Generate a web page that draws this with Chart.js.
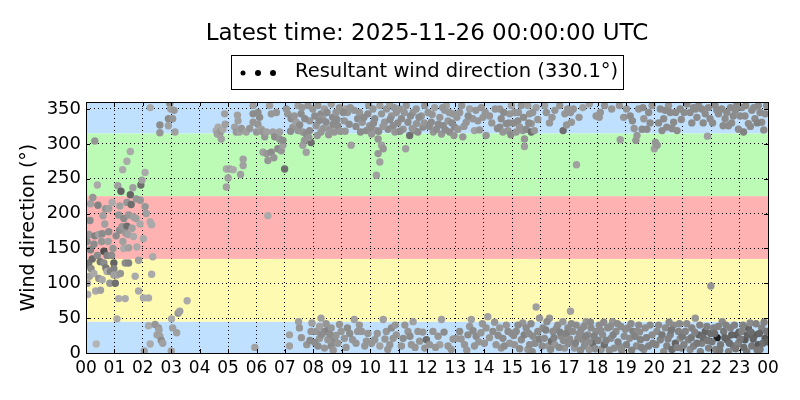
<!DOCTYPE html>
<html>
<head>
<meta charset="utf-8">
<script src="https://cdn.jsdelivr.net/npm/chart.js@4"></script>
<style>
  html, body { margin: 0; padding: 0; background: #fff; }
</style>
</head>
<body>
<canvas id="windChart" width="800" height="400"></canvas>
<script>
// Observations: [hour of day, direction (deg), speed (m/s)] — speed drives the grey shade
const h00 = [[0.02,125,3.5],[0.05,100,2],[0.04,160,3],[0.06,84,1.5],[0.10,129,4],[0.10,170,2.5],[0.12,110,2],[0.14,190,3],[0.16,148,3.5],[0.16,214,2],[0.18,121,3],[0.22,135,4.5],[0.24,223,2.5],[0.28,156,3],[0.28,114,1.5],[0.31,304,2.5],[0.31,168,3.5],[0.34,89,1.5],[0.36,13,1],[0.40,241,1.5],[0.40,140,3],[0.42,212,3.5],[0.45,170,2],[0.45,107,2.5],[0.50,131,4],[0.51,90,2],[0.55,160,2.5],[0.57,105,1.5],[0.57,171,3],[0.60,197,2],[0.63,146,6],[0.63,129,3],[0.66,185,2],[0.69,207,2.5],[0.70,122,4],[0.74,140,3.5],[0.74,117,1.5],[0.78,160,2],[0.80,207,2],[0.80,174,3],[0.84,100,2.5],[0.86,117,3.5],[0.90,140,3],[0.92,216,1.5],[0.95,150,2.5],[0.98,129,5],[0.98,121,3.5],[0.98,112,2]];
const h01 = [[1.03,100,4.5],[1.06,168,3],[1.09,49,1.5],[1.09,112,2],[1.12,240,2],[1.15,78,1.5],[1.15,198,2.5],[1.18,176,3],[1.19,211,2],[1.21,114,2.5],[1.23,232,5],[1.27,181,2.5],[1.29,263,1.5],[1.30,160,2],[1.33,193,3],[1.33,150,1.5],[1.38,129,3],[1.38,78,1.5],[1.40,172,2.5],[1.44,275,1.5],[1.44,216,2.5],[1.44,182,4.5],[1.48,170,2],[1.50,198,2.5],[1.50,151,2],[1.50,129,3.5],[1.56,289,1.5],[1.56,227,5],[1.59,213,4.5],[1.62,179,2],[1.65,237,2],[1.67,195,2],[1.67,167,1.5],[1.73,110,1.5],[1.76,193,2],[1.77,221,2.5],[1.79,152,1.5],[1.85,133,2],[1.85,89,1.5],[1.90,185,1.5],[1.91,219,2.5],[1.93,241,4.5],[1.97,248,2]];
const h02 = [[2.02,79,1.5],[2.02,164,1.5],[2.05,3,2],[2.08,259,1.5],[2.08,210,2.5],[2.12,200,2],[2.20,79,1.5],[2.20,39,1.5],[2.26,352,1.5],[2.26,188,1.5],[2.26,13,1.5],[2.31,184,1.5],[2.31,113,1.5],[2.35,138,1.5],[2.43,41,2.5],[2.50,26,2],[2.55,36,2.5],[2.57,33,2],[2.60,24,2],[2.60,327,3],[2.60,316,2.5],[2.65,18,3],[2.70,14,2],[2.90,336,3],[2.90,326,2],[2.95,358,3],[2.98,350,2],[3.00,3,2],[3.01,49,1.5]];
const h03 = [[3.05,336,2.5],[3.05,36,2],[3.10,348,2.5],[3.13,317,2],[3.19,29,2],[3.24,57,2.5],[3.30,60,2],[3.56,75,1.5]];
const h04 = [[4.58,319,1.5],[4.62,314,2],[4.65,324,1.5],[4.70,313,2],[4.74,318,2.5],[4.76,307,2],[4.82,321,1.5],[4.88,343,2],[4.90,328,2],[4.94,238,2],[4.94,264,1.5]];
const h05 = [[5.00,251,2],[5.06,264,2],[5.18,263,1.5],[5.23,324,2],[5.29,317,2.5],[5.33,341,2],[5.35,333,2],[5.40,317,2],[5.44,256,2],[5.47,322,2.5],[5.53,278,2],[5.53,269,2],[5.64,317,2],[5.76,322,2.5],[5.88,331,2.5],[5.88,343,3],[5.88,355,2],[5.94,8,2]];
const h06 = [[6.00,317,2.5],[6.05,345,3],[6.05,328,2.5],[6.11,338,3],[6.17,321,2],[6.23,317,2.5],[6.23,288,2],[6.29,310,2.5],[6.35,286,2.5],[6.35,317,2],[6.40,276,2.5],[6.40,197,1.5],[6.46,355,2],[6.52,288,3],[6.52,343,2.5],[6.58,317,2],[6.61,280,2.5],[6.64,310,3],[6.70,345,2.5],[6.75,293,3],[6.81,317,2],[6.81,307,2.5],[6.87,290,2.5],[6.93,298,2],[6.93,305,3],[6.99,264,4.5]];
const h07 = [[7.10,343,2.5],[7.16,26,2],[7.16,10,2],[7.22,336,3],[7.28,324,2.5],[7.40,331,2],[7.46,319,2.5],[7.46,355,2],[7.48,45,2],[7.51,36,2.5],[7.57,343,3],[7.63,317,2.5],[7.63,298,2],[7.69,305,2.5],[7.75,314,3],[7.75,288,2],[7.81,355,2.5],[7.87,333,2.5],[7.87,319,3],[7.92,302,4.5],[7.92,31,2.5],[7.95,43,2],[7.98,350,2.5],
    [7.05,350,2.5],[7.20,318,3],[7.33,340,2.5],[7.52,327,3],[7.60,352,2.5],[7.70,336,3],[7.84,309,2.5],[7.58,22,2.5],[7.77,12,2.5],[7.88,18,3]];
const h08 = [[8.10,326,2.5],[8.10,31,2.5],[8.16,355,2.5],[8.16,10,3],[8.22,21,2.5],[8.22,38,2],[8.27,343,3],[8.27,317,2.5],[8.27,50,2],[8.33,336,2.5],[8.39,350,2],[8.39,31,3],[8.39,7,2.5],[8.45,331,3],[8.51,33,3.5],[8.51,19,2.5],[8.57,321,2.5],[8.63,357,2],[8.63,36,2.5],[8.63,10,3],[8.68,338,3],[8.74,317,2.5],[8.74,19,3],[8.80,345,2.5],[8.80,25,2.5],[8.86,326,3],[8.86,14,2.5],[8.92,352,2.5],[8.98,31,2.5],
    [8.05,340,3],[8.14,312,2.5],[8.20,333,3],[8.35,322,2.5],[8.48,345,3],[8.54,313,2.5],[8.70,328,3],[8.83,335,3],[8.95,318,2.5],[8.05,15,3],[8.30,27,3],[8.45,42,2.5],[8.58,27,3],[8.70,4,2.5],[8.92,41,2.5]];
const h09 = [[9.09,333,2.5],[9.09,21,2.5],[9.15,350,2],[9.20,345,2.5],[9.20,36,3],[9.26,328,3],[9.33,298,2],[9.38,19,2.5],[9.44,348,2.5],[9.44,48,2],[9.56,336,3],[9.56,31,2.5],[9.66,317,3],[9.70,31,2.5],[9.72,331,2.5],[9.81,10,2.5],[9.86,319,3],[9.87,17,2.5],[9.92,343,3],[9.98,326,2.5],
    [9.05,345,3],[9.12,318,2.5],[9.30,352,2.5],[9.50,325,3],[9.62,345,2.5],[9.78,338,3],[9.95,355,2.5],[9.15,8,2.5],[9.28,28,3],[9.50,14,2.5],[9.62,40,2.5],[9.92,28,2.5]];
const h10 = [[10.05,314,2.5],[10.05,324,3],[10.05,14,2.5],[10.10,350,2.5],[10.16,336,3],[10.16,19,2.5],[10.22,319,2.5],[10.22,255,2],[10.28,307,2.5],[10.28,286,2.5],[10.34,355,2],[10.34,274,2],[10.34,10,2],[10.40,343,2.5],[10.40,298,2],[10.46,293,2.5],[10.46,48,2],[10.51,331,2.5],[10.57,31,2.5],[10.63,321,3],[10.69,357,2],[10.69,12,2.5],[10.75,340,2.5],[10.75,36,3],[10.81,326,3],[10.81,21,2.5],[10.87,317,2.5],[10.92,345,2.5],[10.92,26,2.5],
    [10.12,330,3],[10.30,318,3],[10.45,325,2.5],[10.58,350,2.5],[10.70,335,3],[10.85,352,2.5],[10.97,330,3],[10.25,28,2.5],[10.52,20,2.5],[10.62,5,2.5],[10.88,40,2.5]];
const h11 = [[11.04,350,2.5],[11.10,336,3],[11.10,10,2.5],[11.16,321,2.5],[11.16,21,3],[11.25,293,2],[11.27,355,2.5],[11.33,331,3],[11.33,31,2.5],[11.39,312,4.5],[11.45,12,2.5],[11.51,345,2.5],[11.51,45,2],[11.57,319,3],[11.63,329,2.5],[11.68,317,3],[11.68,31,2.5],[11.74,17,2.5],[11.80,340,2.5],[11.86,324,3],[11.92,355,2.5],[11.92,7,2.5],[11.98,19,4.5],
    [11.05,318,3],[11.20,345,2.5],[11.42,340,3],[11.48,322,2.5],[11.62,350,2.5],[11.72,338,3],[11.90,330,2.5],[11.22,40,2.5],[11.40,24,3],[11.58,8,2.5],[11.85,30,2.5]];
const h12 = [[12.04,345,2.5],[12.09,12,2.5],[12.15,331,3],[12.21,31,2.5],[12.22,317,2.5],[12.27,352,2],[12.33,321,3],[12.39,24,2.5],[12.45,338,2.5],[12.45,12,2],[12.51,314,2.5],[12.51,48,2],[12.57,326,3],[12.62,348,2.5],[12.68,355,2],[12.74,333,2.5],[12.74,10,2.5],[12.80,317,3],[12.85,5,2.5],[12.91,343,2.5],[12.97,324,3],
    [12.08,325,3],[12.18,342,2.5],[12.40,328,3],[12.55,352,2.5],[12.65,320,3],[12.78,345,2.5],[12.88,330,3],[12.95,312,2.5],[12.30,8,2.5],[12.60,30,3],[12.92,20,2.5]];
const h13 = [[13.03,21,2.5],[13.09,321,2.5],[13.15,345,2.5],[13.15,31,3],[13.26,310,2.5],[13.32,12,2.5],[13.38,331,2.5],[13.44,26,3],[13.50,350,2],[13.50,38,2.5],[13.56,48,2],[13.61,336,2.5],[13.67,319,2],[13.67,10,2.5],[13.73,24,3],[13.79,333,2.5],[13.90,29,2.5],[13.91,352,2.5],
    [13.05,338,2.5],[13.22,355,2.5],[13.30,325,2.5],[13.45,340,3],[13.72,348,2.5],[13.85,320,2.5],[13.97,338,2.5],[13.20,20,2.5],[13.40,4,2.5],[13.62,32,3],[13.82,16,2.5],[13.95,42,2.5]];
const h14 = [[14.02,14,2.5],[14.08,312,2.5],[14.08,36,2.5],[14.14,52,2],[14.20,340,2.5],[14.32,31,3],[14.43,12,2.5],[14.56,350,2.5],[14.56,324,3],[14.56,36,2.5],[14.61,336,3],[14.61,7,2.5],[14.67,317,2.5],[14.67,21,3],[14.79,329,3],[14.79,40,2.5],[14.85,319,2.5],[14.85,31,3],[14.91,343,2.5],[14.91,14,2.5],[14.97,355,2],
    [14.05,345,2.5],[14.28,330,2.5],[14.40,350,2.5],[14.48,322,3],[14.70,345,3],[14.88,330,3],[14.95,313,3],[14.20,22,2.5],[14.38,44,2.5],[14.50,25,3],[14.72,10,3],[14.98,28,3]];
const h15 = [[15.08,345,2.5],[15.08,12,2.5],[15.14,317,2.5],[15.14,31,3],[15.20,333,3],[15.26,324,2.5],[15.32,355,2.5],[15.32,19,3],[15.37,319,2.5],[15.37,43,2.5],[15.43,307,2.5],[15.43,296,2],[15.49,321,3],[15.49,36,3],[15.55,355,2],[15.55,5,2.5],[15.61,343,2.5],[15.61,12,3],[15.67,329,2.5],[15.67,317,4.5],[15.73,24,3],[15.78,319,2.5],[15.84,352,2],[15.84,66,2],[15.90,31,3],[15.96,50,2.5],
    [15.05,330,3],[15.22,345,2.5],[15.40,338,3],[15.58,330,3],[15.72,345,2.5],[15.90,335,2.5],[15.05,25,3],[15.20,40,3],[15.26,6,3],[15.42,26,3.5],[15.58,28,3],[15.66,42,3],[15.80,14,3],[15.95,20,3.5],[15.70,2,3]];
const h16 = [[16.08,36,3],[16.13,21,3],[16.14,355,2],[16.27,10,2.5],[16.31,330,2.5],[16.31,50,2.5],[16.38,17,4.5],[16.43,31,3],[16.50,348,2.5],[16.50,12,2.5],[16.60,40,3],[16.67,355,2.5],[16.72,24,3],[16.78,45,2.5],[16.79,319,4.5],[16.84,7,2.5],[16.85,343,2.5],[16.91,327,2.5],[16.96,36,3],
    [16.20,345,2.5],[16.40,338,2.5],[16.95,350,2.5],[16.05,10,3],[16.18,33,3.5],[16.22,45,3],[16.35,5,3],[16.47,22,3.5],[16.55,35,3],[16.65,8,3],[16.68,30,3.5],[16.80,18,3],[16.90,28,3.5],[16.98,14,3]];
const h17 = [[17.05,345,2.5],[17.05,60,2],[17.08,331,2.5],[17.13,31,3],[17.19,7,2.5],[17.25,40,3],[17.26,270,2],[17.31,21,3],[17.42,33,3],[17.48,352,2],[17.48,19,3],[17.54,10,3],[17.60,45,2.5],[17.66,26,3],[17.71,357,2],[17.71,5,2.5],[17.77,36,3],[17.83,14,4.5],[17.95,340,2.5],[17.95,31,3],
    [17.15,350,2.5],[17.35,338,2.5],[17.02,20,3],[17.08,42,3],[17.22,14,3.5],[17.36,28,3],[17.40,4,3],[17.52,38,3],[17.58,24,3.5],[17.70,16,3],[17.75,44,3],[17.88,24,3.5],[17.92,6,3]];
const h18 = [[18.06,338,2.5],[18.06,40,3],[18.13,5,2.5],[18.18,26,3],[18.24,12,4.5],[18.25,355,2.5],[18.36,36,3],[18.47,21,3],[18.53,45,2.5],[18.59,7,3],[18.65,31,3],[18.77,355,2.5],[18.77,10,3],[18.80,306,2],[18.82,38,3],[18.94,24,3],
    [18.10,345,2.5],[18.50,350,2.5],[18.92,338,2.5],[18.02,18,3.5],[18.12,32,3],[18.22,44,3],[18.30,18,3.5],[18.42,4,3],[18.45,38,3],[18.55,26,3.5],[18.70,42,3],[18.72,16,3.5],[18.85,4,3],[18.98,34,3]];
const h19 = [[19.07,36,3],[19.13,21,3],[19.23,333,3],[19.25,31,3.5],[19.29,322,2.5],[19.35,305,2.5],[19.37,10,3],[19.39,312,2.5],[19.39,31,3],[19.45,350,2.5],[19.45,40,3],[19.51,19,3.5],[19.57,321,3],[19.63,336,2.5],[19.63,5,3],[19.68,36,3],[19.74,321,3],[19.80,345,3],[19.80,10,3.5],[19.92,355,2.5],[19.92,26,3],
    [19.02,350,2.5],[19.15,340,3],[19.60,352,3],[19.85,330,3],[19.02,12,3.5],[19.18,42,3],[19.20,4,3.5],[19.32,24,3.5],[19.48,30,3],[19.55,8,3.5],[19.72,22,3.5],[19.85,40,3],[19.95,14,3.5]];
const h20 = [[20.00,293,2],[20.04,302,2.5],[20.09,31,3],[20.10,298,2.5],[20.21,350,3],[20.21,19,3.5],[20.27,319,3],[20.33,336,3],[20.33,2,3],[20.39,36,3],[20.44,324,3],[20.44,10,3.5],[20.50,355,2.5],[20.56,345,3],[20.56,26,3.5],[20.62,5,4.5],[20.68,331,3],[20.68,40,3],[20.74,14,5],[20.80,319,3],[20.85,31,3.5],[20.91,350,3],[20.91,21,3],[20.97,7,3.5],
    [20.15,330,3],[20.38,348,3],[20.62,322,3],[20.75,345,3],[20.95,335,3],[20.05,12,3.5],[20.15,40,3],[20.27,26,4],[20.48,20,3.5],[20.52,44,3],[20.60,33,4],[20.80,8,3.5],[20.88,42,3],[20.99,24,4]];
const h21 = [[21.09,31,3.5],[21.15,357,3],[21.20,19,3.5],[21.26,345,3],[21.26,5,3],[21.32,36,3.5],[21.38,352,3],[21.38,10,3.5],[21.44,50,2.5],[21.50,338,3],[21.56,355,3],[21.56,26,5],[21.62,2,3.5],[21.67,350,3],[21.67,14,3.5],[21.79,343,3],[21.79,31,5],[21.87,311,2],[21.91,7,3.5],[21.96,336,3],[21.99,96,2.5],
    [21.05,345,3],[21.32,330,3],[21.45,350,3],[21.72,330,3],[21.90,352,3],[21.04,12,3.5],[21.14,42,3],[21.30,22,4],[21.42,30,3.5],[21.50,14,4],[21.60,40,3.5],[21.72,22,4.5],[21.85,38,3.5],[21.88,18,4],[21.98,28,4.5]];
const h22 = [[22.09,36,3.5],[22.14,355,3],[22.15,5,3.5],[22.21,22,8.5],[22.26,343,3],[22.33,12,4],[22.37,350,3],[22.39,45,3],[22.44,31,4],[22.49,336,3],[22.56,19,5],[22.61,326,3],[22.61,2,3.5],[22.68,352,3],[22.68,36,3.5],[22.78,340,3],[22.78,10,4],[22.90,355,3],[22.90,26,5.5],[22.96,321,3],[22.96,14,3.5],
    [22.05,330,3],[22.20,348,3],[22.42,326,3],[22.55,345,3],[22.72,330,3],[22.85,348,3],[22.03,16,4],[22.12,28,4.5],[22.25,38,3.5],[22.30,4,4],[22.48,22,5],[22.52,40,3.5],[22.64,14,4.5],[22.72,26,5],[22.82,40,3.5],[22.86,6,4],[22.98,30,5]];
const h23 = [[23.08,352,3],[23.08,31,3.5],[23.14,317,3.5],[23.19,340,3],[23.19,19,5.5],[23.25,2,4],[23.31,329,3],[23.31,36,5],[23.37,43,3],[23.43,348,3],[23.43,10,4],[23.54,336,3],[23.54,26,5.5],[23.66,355,3],[23.66,12,5.5],[23.72,5,4],[23.78,331,3],[23.78,36,3.5],[23.90,343,3],[23.90,21,5.5],[23.95,355,3],[23.95,31,4],
    [23.02,340,3],[23.22,355,3],[23.38,325,3],[23.50,352,3],[23.62,330,3.5],[23.72,345,3],[23.85,320,3],[23.02,20,4],[23.12,40,3.5],[23.15,8,4.5],[23.28,26,5],[23.40,30,4.5],[23.48,20,5],[23.58,42,3.5],[23.62,4,4],[23.70,28,5],[23.82,14,4.5],[23.86,44,3.5],[23.98,16,5]];

const sectorEdges = [0, 45, 135, 225, 315, 360];
const yTicks = [0, 50, 100, 150, 200, 250, 300, 350];
const titleText = 'Latest time: 2025-11-26 00:00:00 UTC';
const legendText = 'Resultant wind direction (330.1°)';
const yTitle = 'Wind direction (°)';

const FONT = "'DejaVu Sans', sans-serif";
const sectorColors = ['rgb(191,225,255)', 'rgb(255,250,178)', 'rgb(255,178,178)', 'rgb(187,251,182)', 'rgb(191,225,255)'];

const allObs = [h00, h01, h02, h03, h04, h05, h06, h07, h08, h09, h10, h11, h12, h13, h14, h15, h16, h17, h18, h19, h20, h21, h22, h23].flat();
const points = allObs.map(o => ({ x: o[0], y: o[1] }));
const shades = allObs.map(o => {
    const g = Math.max(0, Math.min(230, Math.round(200 - o[2] * 20)));
    return `rgb(${g},${g},${g})`;
});

// sector bands behind grid, frame + inward ticks, title/legend/y label
const decor = {
    id: 'decor',
    beforeDraw(chart) {
        const { ctx, chartArea: a, scales: { y } } = chart;
        ctx.save();
        for (let i = 0; i < sectorEdges.length - 1; i++) {
            const top = y.getPixelForValue(sectorEdges[i + 1]);
            const bot = y.getPixelForValue(sectorEdges[i]);
            ctx.fillStyle = sectorColors[i];
            ctx.fillRect(a.left, top, a.right - a.left, bot - top);
        }
        ctx.restore();
    },
    afterDatasetsDraw(chart) {
        const { ctx, chartArea: a, scales: { x, y } } = chart;
        ctx.save();
        ctx.strokeStyle = '#000';
        ctx.lineWidth = 1;
        ctx.beginPath();
        for (let h = 0; h <= 24; h++) {
            const px = Math.round(x.getPixelForValue(h)) + 0.5;
            ctx.moveTo(px, a.bottom); ctx.lineTo(px, a.bottom - 4);
            ctx.moveTo(px, a.top); ctx.lineTo(px, a.top + 4);
        }
        yTicks.forEach(v => {
            const py = Math.round(y.getPixelForValue(v)) + 0.5;
            ctx.moveTo(a.left, py); ctx.lineTo(a.left + 4, py);
            ctx.moveTo(a.right, py); ctx.lineTo(a.right - 4, py);
        });
        ctx.stroke();
        ctx.strokeRect(Math.round(a.left) + 0.5, Math.round(a.top) + 0.5, Math.round(a.right - a.left), Math.round(a.bottom - a.top));
        ctx.restore();
    },
    afterDraw(chart) {
        const { ctx, chartArea: a } = chart;
        const cx = (a.left + a.right) / 2;
        ctx.save();
        ctx.fillStyle = '#000';
        ctx.textAlign = 'center';
        ctx.textBaseline = 'middle';
        ctx.font = `23px ${FONT}`;
        ctx.fillText(titleText, cx, 34);

        // legend box
        ctx.strokeStyle = '#000';
        ctx.lineWidth = 1;
        ctx.strokeRect(231.5, 55.5, 392, 34);
        [[243, 2.5], [258, 3], [273, 3]].forEach(([dx, r]) => {
            ctx.beginPath();
            ctx.arc(dx, 73, r, 0, Math.PI * 2);
            ctx.fill();
        });
        ctx.font = `19.5px ${FONT}`;
        ctx.textAlign = 'left';
        ctx.fillText(legendText, 295, 72);

        // y axis title
        ctx.font = `19px ${FONT}`;
        ctx.translate(29, (a.top + a.bottom) / 2);
        ctx.rotate(-Math.PI / 2);
        ctx.textAlign = 'center';
        ctx.fillText(yTitle, 0, 0);
        ctx.restore();
    }
};

const ctx = document.getElementById('windChart').getContext('2d');
new Chart(ctx, {
    type: 'scatter',
    data: {
        datasets: [{
            label: legendText,
            data: points,
            backgroundColor: shades,
            borderWidth: 0,
            pointRadius: 3.7,
            pointHoverRadius: 3.7
        }]
    },
    options: {
        responsive: false,
        animation: false,
        layout: { padding: { top: 102, right: 32, left: 0, bottom: 0 } },
        plugins: {
            legend: { display: false },
            title: { display: false },
            tooltip: { enabled: false }
        },
        scales: {
            x: {
                type: 'linear',
                min: 0,
                max: 24,
                afterFit(s) { s.height = 47; },
                grid: { color: '#000', lineWidth: 1, drawTicks: false },
                border: { display: false, dash: [1, 3] },
                ticks: {
                    stepSize: 1,
                    autoSkip: false,
                    maxRotation: 0,
                    padding: 5,
                    color: '#000',
                    font: { family: FONT, size: 17 },
                    callback: v => String(v % 24).padStart(2, '0')
                }
            },
            y: {
                min: 0,
                max: 360,
                afterFit(s) { s.width = 86; },
                grid: { color: '#000', lineWidth: 1, drawTicks: false },
                border: { display: false, dash: [1, 3] },
                ticks: {
                    stepSize: 50,
                    includeBounds: false,
                    padding: 5,
                    color: '#000',
                    font: { family: FONT, size: 18 }
                }
            }
        }
    },
    plugins: [decor]
});
</script>
</body>
</html>
